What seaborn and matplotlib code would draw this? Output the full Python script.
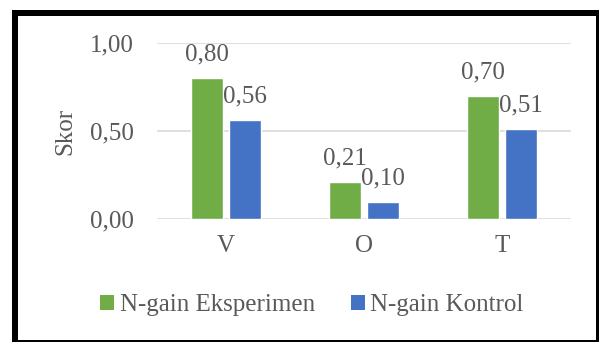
import matplotlib
matplotlib.use("Agg")
import matplotlib.pyplot as plt
from matplotlib.patches import Rectangle
from matplotlib.ticker import FuncFormatter
import seaborn as sns
import pandas as pd

# Chart data
categories = ["V", "O", "T"]
series_names = ["N-gain Eksperimen", "N-gain Kontrol"]
eksperimen = [0.80, 0.21, 0.70]
kontrol = [0.56, 0.10, 0.51]
y_ticks = [0.0, 0.5, 1.0]

colors = {"N-gain Eksperimen": "#70AD47", "N-gain Kontrol": "#4472C4"}
text_color = "#595959"
grid_color = "#D9D9D9"
FS = 18

df = pd.DataFrame({
    "kategori": categories * 2,
    "seri": [series_names[0]] * len(categories) + [series_names[1]] * len(categories),
    "skor": eksperimen + kontrol,
})

sns.set_theme(style="white")
plt.rcParams["font.family"] = ["Liberation Serif", "DejaVu Serif"]
plt.rcParams["font.size"] = FS

W, H = 600, 342
fig = plt.figure(figsize=(W / 100, H / 100), dpi=100)
ax = fig.add_axes([157 / W, 1 - 219.3 / H, (571 - 157) / W, (219.3 - 42.7) / H])

sns.barplot(data=df, x="kategori", y="skor", hue="seri", order=categories,
            hue_order=series_names, palette=colors, width=0.55, gap=0.18,
            saturation=1, errorbar=None, legend=False, ax=ax)

ax.set_xlim(-0.5, len(categories) - 0.5)
ax.set_ylim(0, 1.0)
ax.set_yticks(y_ticks)
fmt = lambda v: f"{v:.2f}".replace(".", ",")
ax.yaxis.set_major_formatter(FuncFormatter(lambda v, p: fmt(v)))
ax.grid(axis="y", color=grid_color, linewidth=1.2)
ax.grid(axis="x", visible=False)
ax.set_axisbelow(True)
for s in ax.spines.values():
    s.set_visible(False)
ax.tick_params(axis="y", length=0, pad=17, labelsize=FS, labelcolor=text_color)
ax.tick_params(axis="x", length=0, pad=11, labelsize=FS, labelcolor=text_color)
ax.set_xlabel("")
ax.set_ylabel("Skor", color=text_color, fontsize=FS, va="center")
ax.yaxis.set_label_coords((65 - 157) / 414, 0.5)

# Value labels above bars
for container, vals in zip(ax.containers, [eksperimen, kontrol]):
    for bar, v in zip(container, vals):
        ax.annotate(fmt(v), (bar.get_x() + bar.get_width() / 2, v),
                    xytext=(0, 12.6), textcoords="offset points",
                    ha="center", va="baseline", fontsize=FS, color=text_color)

# Legend
handles = [Rectangle((0, 0), 1, 1, facecolor=colors[n], edgecolor="none") for n in series_names]
fig.legend(handles, series_names, loc="center", bbox_to_anchor=(312 / W, 1 - 305 / H),
           ncol=2, frameon=False, fontsize=FS, labelcolor=text_color,
           handlelength=0.55, handleheight=0.55, handletextpad=0.22,
           columnspacing=1.45, borderaxespad=0, borderpad=0)

# Outer frame: heavy on the left/top, thin on the right/bottom
def px_rect(x0, y0, x1, y1):
    fig.add_artist(Rectangle((x0 / W, 1 - y1 / H), (x1 - x0) / W, (y1 - y0) / H,
                             transform=fig.transFigure, facecolor="black",
                             edgecolor="none", zorder=10))

px_rect(12, 10, 18, 342)
px_rect(12, 10, 597, 16)
px_rect(596, 10, 599, 342)
px_rect(12, 340, 599, 342)

fig.savefig("out.png", dpi=100, facecolor="white")
